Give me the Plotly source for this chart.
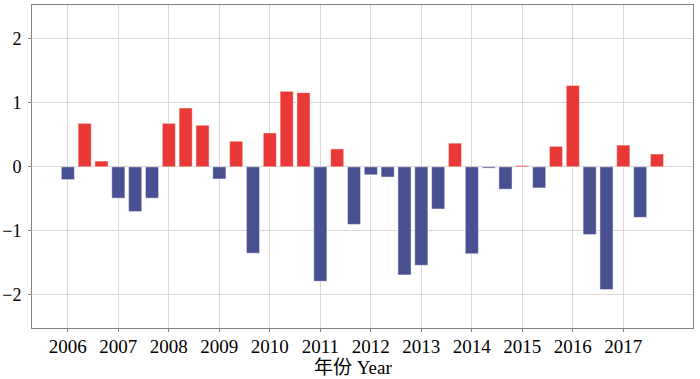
import plotly.graph_objects as go

years = list(range(2006, 2018))
positions = [y + k / 3 for y in years for k in range(3)]
values = [
    -0.20, 0.68, 0.09,
    -0.49, -0.70, -0.49,
    0.68, 0.92, 0.65,
    -0.19, 0.40, -1.35,
    0.53, 1.18, 1.16,
    -1.79, 0.28, -0.90,
    -0.125, -0.16, -1.69,
    -1.54, -0.66, 0.37,
    -1.36, -0.02, -0.35,
    0.02, -0.33, 0.32,
    1.27, -1.06, -1.92,
    0.34, -0.79, 0.20,
]
tick_vals = years
tick_text = [str(y) for y in years]
y_ticks = [-2, -1, 0, 1, 2]
y_text = ["\u22122", "\u22121", "0", "1", "2"]

RED = "rgb(232,57,54)"
BLUE = "rgb(72,80,145)"
colors = [RED if v >= 0 else BLUE for v in values]

fig = go.Figure(go.Bar(
    x=positions, y=values, width=0.26,
    marker=dict(color=colors, line=dict(color="rgba(255,255,255,0.6)", width=0.8)),
))

font = "Liberation Serif"
fig.update_layout(
    width=700, height=379,
    margin=dict(l=32, r=7, t=5, b=51),
    plot_bgcolor="white", paper_bgcolor="white",
    showlegend=False,
    font=dict(family=font, size=19, color="black"),
    xaxis=dict(
        range=[2005.29, 2018.38],
        tickvals=tick_vals, ticktext=tick_text,
        showgrid=True, gridcolor="rgb(222,215,215)", gridwidth=1,
        showline=True, linecolor="rgb(130,130,130)", linewidth=1, mirror=True,
        ticks="outside", ticklen=3, tickcolor="rgb(130,130,130)",
        zeroline=False, automargin=False, ticklabelstandoff=-2,
        tickfont=dict(family=font, size=19),
    ),
    yaxis=dict(
        range=[-2.52, 2.53],
        tickvals=y_ticks, ticktext=y_text,
        showgrid=True, gridcolor="rgb(222,215,215)", gridwidth=1,
        showline=True, linecolor="rgb(130,130,130)", linewidth=1, mirror=True,
        ticks="outside", ticklen=3, tickcolor="rgb(130,130,130)",
        zeroline=True, zerolinecolor="rgb(222,215,215)", zerolinewidth=1,
        automargin=False, ticklabelstandoff=3,
        tickfont=dict(family=font, size=18),
    ),
    annotations=[dict(
        text="年份 Year", x=0.486, y=0, xref="paper", yref="paper",
        xanchor="center", yanchor="middle", yshift=-39, showarrow=False,
        font=dict(family="Liberation Serif, Noto Sans CJK SC", size=19),
    )],
)

fig.write_html(
    "out.html",
    config={"displayModeBar": False},
    post_script="document.body.style.margin='0';document.body.style.padding='0';",
)
